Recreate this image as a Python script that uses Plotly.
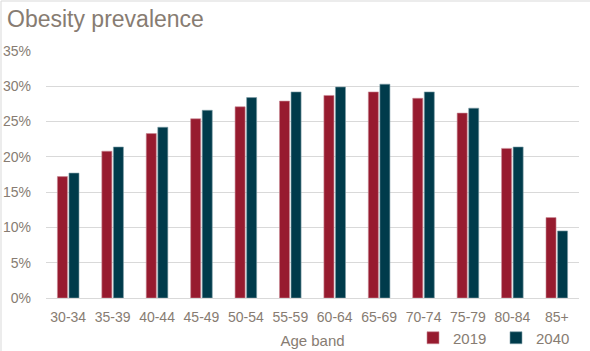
import plotly.graph_objects as go

# Obesity prevalence by age band, 2019 vs projected 2040
age_bands = ["30-34", "35-39", "40-44", "45-49", "50-54", "55-59",
             "60-64", "65-69", "70-74", "75-79", "80-84", "85+"]
prev_2019 = [0.172, 0.208, 0.233, 0.254, 0.271, 0.279,
             0.287, 0.292, 0.283, 0.262, 0.212, 0.114]
prev_2040 = [0.177, 0.214, 0.242, 0.266, 0.284, 0.292,
             0.299, 0.303, 0.292, 0.269, 0.214, 0.095]
y_ticks = [0, 0.05, 0.10, 0.15, 0.20, 0.25, 0.30, 0.35]

W, H = 590, 351
ML, MR, MT, MB = 46, 11, 51, 53
TEXT = "#877C72"
FONT = "Liberation Sans, Arial, sans-serif"

fig = go.Figure()
fig.add_bar(x=age_bands, y=prev_2019, name="2019",
            marker=dict(color="#971B2F", line=dict(color="#C98A95", width=0.6)))
fig.add_bar(x=age_bands, y=prev_2040, name="2040",
            marker=dict(color="#003B4B", line=dict(color="#7FA0A8", width=0.6)))

pw = W - ML - MR
ph = H - MT - MB

fig.update_layout(
    width=W, height=H,
    margin=dict(l=ML, r=MR, t=MT, b=MB, autoexpand=False),
    paper_bgcolor="white", plot_bgcolor="white",
    barmode="group", bargap=0.48, bargroupgap=0.13,
    font=dict(family=FONT, color=TEXT, size=13),
    title=dict(text="Obesity prevalence", x=7 / W, xanchor="left",
               y=1 - 19 / H, yanchor="middle",
               font=dict(size=23, color=TEXT, family=FONT)),
    xaxis=dict(title=dict(text="Age band", standoff=11, font=dict(size=15)),
               tickfont=dict(size=14), showline=False, ticks="",
               showgrid=False, automargin=False, ticklabelstandoff=9),
    yaxis=dict(range=[0, 0.35], tickvals=y_ticks, tickformat=".0%",
               tickfont=dict(size=14), showgrid=True, gridcolor="#D9D9D9",
               gridwidth=1, zeroline=True, zerolinecolor="#D9D9D9",
               zerolinewidth=1, ticks="", ticklabelstandoff=14,
               automargin=False),
    legend=dict(orientation="h", x=1.0, xanchor="right",
                y=-(338 - (H - MB)) / ph, yanchor="middle",
                font=dict(size=15), itemwidth=30, entrywidth=38,
                entrywidthmode="pixels", bgcolor="rgba(0,0,0,0)",
                traceorder="normal"),
    showlegend=True,
)

# Outer frame lines along the left and top edges of the chart area
fig.add_shape(type="line", xref="paper", yref="paper",
              x0=(1 - ML) / pw, x1=(W + 5 - ML) / pw,
              y0=(H - MB - 1) / ph, y1=(H - MB - 1) / ph,
              line=dict(color="#D9D9D9", width=1))
fig.add_shape(type="line", xref="paper", yref="paper",
              x0=(1 - ML) / pw, x1=(1 - ML) / pw,
              y0=(H - MB - 1) / ph, y1=-(MB + 5) / ph,
              line=dict(color="#D9D9D9", width=1))

fig.write_html("out.html")
